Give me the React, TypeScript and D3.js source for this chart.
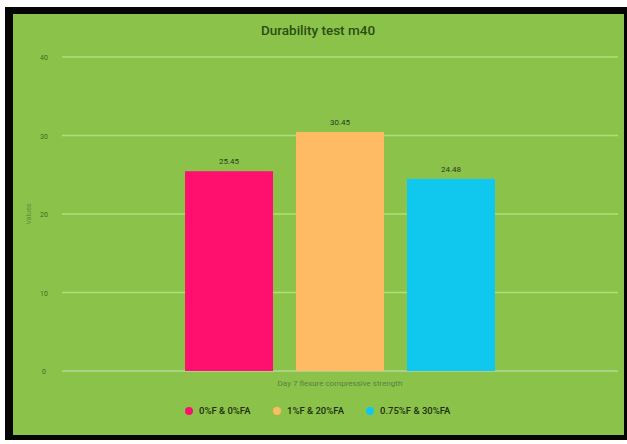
import React from "react";
import * as d3 from "d3";

const categories = ["Day 7 flexure compressive strength"];
const seriesNames = ["0%F & 0%FA", "1%F & 20%FA", "0.75%F & 30%FA"];
const seriesValues = [25.45, 30.45, 24.48];
const seriesColors = ["#ff0f6e", "#ffbb63", "#10c8ee"];
const yTicks = [0, 10, 20, 30, 40];

const W = 627;
const H = 444;
const plot = { left: 62, right: 618, top: 57, bottom: 371 };

export default function App() {
  const x = d3
    .scaleBand<string>()
    .domain(categories)
    .range([plot.left, plot.right])
    .paddingInner(0)
    .paddingOuter(0.397);
  const xInner = d3
    .scaleBand<string>()
    .domain(seriesNames)
    .range([0, x.bandwidth()])
    .paddingInner(0.207)
    .paddingOuter(0);
  const y = d3.scaleLinear().domain([0, 40]).range([plot.bottom, plot.top]);

  const legendX = [189, 277, 370];

  return (
    <svg
      width={W}
      height={H}
      style={{ position: "absolute", left: 0, top: 0, fontFamily: "Roboto, sans-serif" }}
    >
      <rect x={0} y={0} width={W} height={H} fill="#ffffff" />
      <rect x={5} y={7} width={622} height={433} fill="#050505" />
      <rect x={13} y={14} width={611} height={421} fill="#8bc34a" />

      <text x={318} y={35} textAnchor="middle" fontSize={13.5} fontWeight={500} fill="#2b4d12">
        Durability test m40
      </text>

      {yTicks.map((t) => (
        <g key={t}>
          <line
            x1={plot.left}
            x2={plot.right}
            y1={y(t)}
            y2={y(t)}
            stroke={t === 0 ? "#b5d99a" : "#aee07a"}
            strokeWidth={1.5}
          />
          <text x={44} y={y(t) + 3} textAnchor="middle" fontSize={7} fill="#3f6a20">
            {t}
          </text>
        </g>
      ))}

      <text
        transform={`translate(31, ${(plot.top + plot.bottom) / 2}) rotate(-90)`}
        textAnchor="middle"
        fontSize={7}
        fill="#5e8a3a"
      >
        Values
      </text>

      {categories.map((c) =>
        seriesNames.map((s, i) => {
          const bx = (x(c) ?? 0) + (xInner(s) ?? 0);
          const v = seriesValues[i];
          return (
            <g key={s}>
              <rect
                x={bx}
                y={y(v)}
                width={xInner.bandwidth()}
                height={y(0) - y(v)}
                fill={seriesColors[i]}
              />
              <text
                x={bx + xInner.bandwidth() / 2}
                y={y(v) - 7}
                textAnchor="middle"
                fontSize={8}
                fill="#2a3a20"
              >
                {v.toFixed(2)}
              </text>
            </g>
          );
        })
      )}

      <text x={340} y={386} textAnchor="middle" fontSize={8} fill="#5a7f44">
        {categories[0]}
      </text>

      {seriesNames.map((s, i) => (
        <g key={s}>
          <circle cx={legendX[i]} cy={411} r={4} fill={seriesColors[i]} />
          <text x={legendX[i] + 10} y={414} fontSize={9.5} fontWeight={500} fill="#1f2e12">
            {s}
          </text>
        </g>
      ))}
    </svg>
  );
}
